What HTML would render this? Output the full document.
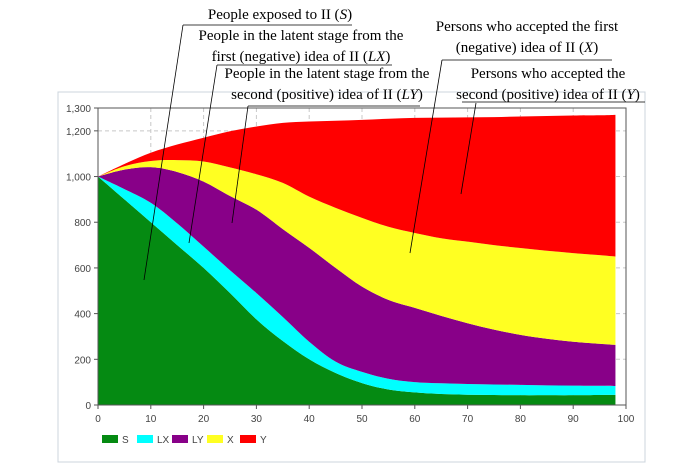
<!DOCTYPE html>
<html><head><meta charset="utf-8"><style>
body{margin:0;background:#fff;}
svg{display:block;}
.ann{font-family:"Liberation Serif",serif;font-size:15px;fill:#000;}
.tk{font-family:"Liberation Sans",sans-serif;font-size:10px;fill:#444;}
</style></head><body>
<svg id="chart" width="695" height="470">
<rect x="58" y="92" width="587" height="370" fill="#fff" stroke="#ccd4dc"/>
<g id="grid"></g>
<g id="areas"></g>
<g id="axes"></g>
<g id="legend"></g>
<g id="anns">
<text class="ann" x="280" y="19" text-anchor="middle">People exposed to II (<tspan font-style="italic">S</tspan>)</text>
<line x1="183" y1="25" x2="352" y2="25" stroke="#000" stroke-width="0.8"/>
<line x1="183" y1="25" x2="144" y2="280" stroke="#000" stroke-width="0.8"/>
<text class="ann" x="301" y="40" text-anchor="middle">People in the latent stage from the</text>
<text class="ann" x="301" y="61" text-anchor="middle">first (negative) idea of II (<tspan font-style="italic">LX</tspan>)</text>
<line x1="217" y1="65" x2="392" y2="65" stroke="#000" stroke-width="0.8"/>
<line x1="217" y1="65" x2="189" y2="243" stroke="#000" stroke-width="0.8"/>
<text class="ann" x="327" y="78" text-anchor="middle">People in the latent stage from the</text>
<text class="ann" x="327" y="99" text-anchor="middle">second (positive) idea of II  (<tspan font-style="italic">LY</tspan>)</text>
<line x1="248" y1="106" x2="420" y2="106" stroke="#000" stroke-width="0.8"/>
<line x1="248" y1="106" x2="232" y2="223" stroke="#000" stroke-width="0.8"/>
<text class="ann" x="527" y="31" text-anchor="middle">Persons who accepted the first</text>
<text class="ann" x="527" y="52" text-anchor="middle">(negative) idea of II (<tspan font-style="italic">X</tspan>)</text>
<line x1="442" y1="60" x2="612" y2="60" stroke="#000" stroke-width="0.8"/>
<line x1="442" y1="60" x2="410" y2="253" stroke="#000" stroke-width="0.8"/>
<text class="ann" x="548" y="78" text-anchor="middle">Persons who accepted the</text>
<text class="ann" x="548" y="99" text-anchor="middle">second (positive) idea of II (<tspan font-style="italic">Y</tspan>)</text>
<line x1="462" y1="102" x2="645" y2="102" stroke="#000" stroke-width="0.8"/>
<line x1="476" y1="103" x2="461" y2="194" stroke="#000" stroke-width="0.8"/>
</g>
</svg>
<script>
const xs=[0,5,10,15,20,25,30,35,40,45,50,55,60,65,70,75,80,85,90,95,98];
const sVals=[1000,900,800,700,600,490,375,280,200,140,96,68,55,48,45,44,43,43,43,44,44];
const lxVals=[0,45,85,95,93,100,115,105,77,50,49,47,45,47,47,46,45,43,42,40,39];
const lyVals=[0,85,156,225,285,325,365,385,411,410,373,345,325,295,266,240,219,204,192,184,180];
const xVals=[0,15,27,52,88,125,155,202,224,263,301,320,328,340,357,370,380,385,388,388,387];
const yVals=[0,10,36,68,104,158,209,263,329,381,429,473,504,528,544,560,576,590,602,612,620];
const seriesNames=["S","LX","LY","X","Y"];
const seriesColors=["#058a12","#00ffff","#880088","#ffff22","#ff0000"];
const xTicks=[0,10,20,30,40,50,60,70,80,90,100];
const yTicks=[0,200,400,600,800,1000,1200,1300];
const yTickLabels=["0","200","400","600","800","1,000","1,200","1,300"];

const L=98,R=626,T=108,B=405;
const sx=v=>L+(R-L)*v/100;
const sy=v=>B-(B-T)*v/1300;
const NS="http://www.w3.org/2000/svg";
function mk(tag,attrs,parent){const e=document.createElementNS(NS,tag);for(const k in attrs)e.setAttribute(k,attrs[k]);parent.appendChild(e);return e;}

const grid=document.getElementById('grid');
mk('rect',{x:L,y:T,width:R-L,height:B-T,fill:'#fff'},grid);
xTicks.forEach((t,i)=>{if(t>0&&t<100){const l=mk('line',{x1:sx(t),x2:sx(t),y1:T,y2:B,stroke:'#c8c8c8','stroke-dasharray':'4,3'},grid);

}});
yTicks.forEach(t=>{if(t>0&&t<1300){const l=mk('line',{x1:L,x2:R,y1:sy(t),y2:sy(t),stroke:'#c8c8c8','stroke-dasharray':'4,3'},grid);

}});

function curve(pts){
  let d='';
  for(let i=0;i<pts.length-1;i++){
    const p0=pts[Math.max(0,i-1)],p1=pts[i],p2=pts[i+1],p3=pts[Math.min(pts.length-1,i+2)];
    const c1x=p1[0]+(p2[0]-p0[0])/6,c1y=p1[1]+(p2[1]-p0[1])/6;
    const c2x=p2[0]-(p3[0]-p1[0])/6,c2y=p2[1]-(p3[1]-p1[1])/6;
    d+=' C'+c1x+','+c1y+' '+c2x+','+c2y+' '+p2[0]+','+p2[1];
  }
  return d;
}

const series=[sVals,lxVals,lyVals,xVals,yVals];
const areas=document.getElementById('areas');
let base=xs.map(()=>0);
series.forEach((vals,si)=>{
  const top=base.map((b,i)=>b+vals[i]);
  const tp=xs.map((x,i)=>[sx(x),sy(top[i])]);
  const bp=xs.map((x,i)=>[sx(x),sy(base[i])]).reverse();
  let d='M'+tp[0][0]+','+tp[0][1]+curve(tp)+' L'+bp[0][0]+','+bp[0][1]+curve(bp)+'Z';
  const p=mk('path',{d:d,fill:seriesColors[si]},areas);
  
  
  base=top;
});

const axes=document.getElementById('axes');
mk('rect',{x:L,y:T,width:R-L,height:B-T,fill:'none',stroke:'#555','stroke-width':1},axes);
xTicks.forEach(t=>{
  mk('line',{x1:sx(t),x2:sx(t),y1:B,y2:B+4,stroke:'#555'},axes);
  const tx=mk('text',{x:sx(t),y:B+17,'text-anchor':'middle',class:'tk'},axes);
  tx.textContent=t;
  
  
});
yTicks.forEach((t,i)=>{
  mk('line',{x1:L-4,x2:L,y1:sy(t),y2:sy(t),stroke:'#555'},axes);
  const tx=mk('text',{x:L-7,y:sy(t)+4,'text-anchor':'end',class:'tk'},axes);
  tx.textContent=yTickLabels[i];
  
  
});

const legend=document.getElementById('legend');
const lx=[102,137,172,207,240];
seriesNames.forEach((n,i)=>{
  const g=mk('g',{},legend);
  
  
  mk('rect',{x:lx[i],y:435,width:16,height:8,fill:seriesColors[i]},g);
  const t=mk('text',{x:lx[i]+20,y:443,class:'tk'},g);
  t.textContent=n;
});
</script>
</body></html>
